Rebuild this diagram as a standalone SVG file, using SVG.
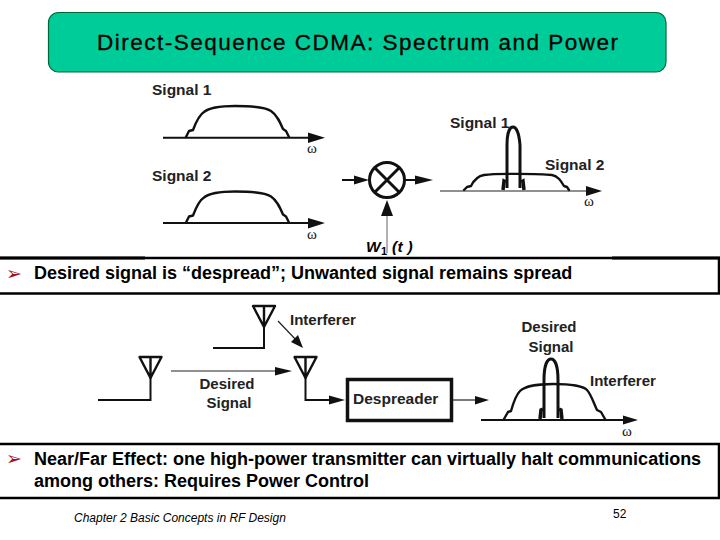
<svg xmlns="http://www.w3.org/2000/svg" width="720" height="540" viewBox="0 0 720 540">
<style>
.t{font-family:"Liberation Sans",Arial,sans-serif;fill:#000}
.b{font-weight:bold;font-size:18px}
.l{font-weight:bold;font-size:15.500px;fill:#222}
.l15{font-weight:bold;font-size:15px;fill:#222}
.w{font-family:"Liberation Serif",serif;font-size:15px;fill:#111}
.bul{font-family:"DejaVu Sans",sans-serif;font-size:19px;fill:#a01020}
.c{fill:none;stroke:#111;stroke-width:2.400;stroke-linejoin:round;stroke-linecap:round}
.c3{fill:none;stroke:#111;stroke-width:3}
.ln{fill:none;stroke:#111;stroke-width:2}
.ln1{fill:none;stroke:#222;stroke-width:1.200}
.ah{fill:#111}
.box{fill:#fff;stroke:#000;stroke-width:2.500}
</style>
<defs>
<path id="wide" class="c" d="M186 137 L189 131 L193 130 C196 122 199 115 204 112 C210 107 225 106 235 106 C250 106 265 107 271 111 C277 115 280 122 283 129 L286 131 L289 137"/>
<path id="ant" class="c" d="M-11 0 H11 L0 21 Z M0 0 V21"/>
</defs>
<rect width="720" height="540" fill="#fff"/>
<g id="title">
<rect x="48.5" y="12.5" width="617.5" height="59.5" rx="10" fill="#00cc99" stroke="#063" stroke-width="1.2"/>
<text class="t" x="97" y="50" font-size="22.500" textLength="521" lengthAdjust="spacing" stroke="#000" stroke-width="0.3">Direct-Sequence CDMA: Spectrum and Power</text>
</g>
<g id="bullet-box-1">
<rect class="box" x="-2" y="258" width="721" height="35.5"/>
<path d="M0 258 H145 M612 258 H720" stroke="#000" stroke-width="3" fill="none"/>
<text class="bul" x="6" y="280">➢</text>
<text class="t b" x="34" y="279">Desired signal is “despread”; Unwanted signal remains spread</text>
</g>
<g id="bullet-box-2">
<rect class="box" x="-2" y="444" width="721" height="54"/>
<text class="bul" x="6" y="465">➢</text>
<text class="t b" x="34" y="464.500">Near/Far Effect: one high-power transmitter can virtually halt communications</text>
<text class="t b" x="34" y="487">among others: Requires Power Control</text>
</g>
<g id="footer">
<text class="t" x="74" y="521.500" font-size="12" font-style="italic" fill="#222">Chapter 2 Basic Concepts in RF Design</text>
<text class="t" x="613" y="518" font-size="12" fill="#222">52</text>
</g>
<g id="signal-1-spectrum">
<text class="t l" x="152" y="95">Signal 1</text>
<use href="#wide"/>
<text class="w" x="307" y="153">ω</text>
</g>
<g id="signal-2-spectrum">
<text class="t l" x="152" y="180.500">Signal 2</text>
<use href="#wide" y="85.500"/>
<text class="w" x="307" y="239">ω</text>
</g>
<g id="mixer">
<circle cx="387" cy="180" r="17.500" fill="#fff" stroke="#111" stroke-width="3"/>
<path d="M375 168 L399 192 M399 168 L375 192" stroke="#111" stroke-width="3"/>
<text class="t" x="366" y="252" font-size="15.500" font-weight="bold" font-style="italic" fill="#222" letter-spacing="0.3">W<tspan font-size="11" dy="3" font-style="normal">1</tspan><tspan dy="-3"> (t )</tspan></text>
</g>
<g id="despread-spectrum">
<text class="t l" x="450" y="127.500">Signal 1</text>
<text class="t l" x="545" y="169.500">Signal 2</text>
<path class="c" d="M464 190 L467 187 L471 186 C474 180 478 176 484 175 C495 173.500 540 173.500 552 175 C558 176 561 181 564 186 L567 187 L569 190"/>
<path class="c3" d="M507 188 V145 C507 132 510 127 513 127 C516 127 519 132 520 145 V188"/>
<path fill="none" stroke="#111" stroke-width="3.500" d="M503 190 L504 181 L506 182 M524 190 L523 181 L521 182"/>
<text class="w" x="584" y="206">ω</text>
</g>
<g id="antenna-interferer">
<use href="#ant" x="264" y="306"/>
<path class="ln" d="M213 348 H264 V327"/>
<text class="t l15" x="290" y="325">Interferer</text>
</g>
<g id="antenna-desired">
<use href="#ant" x="150.500" y="357"/>
<path class="ln" d="M98 400 H150.500 V378"/>
<text class="t l15" x="227" y="389" text-anchor="middle">Desired</text>
<text class="t l15" x="229" y="408" text-anchor="middle">Signal</text>
</g>
<g id="antenna-receive">
<use href="#ant" x="305.500" y="357"/>
</g>
<g id="despreader">
<rect x="347.500" y="379.500" width="104" height="41" fill="#fff" stroke="#111" stroke-width="3.500"/>
<text class="t l" x="353" y="404">Despreader</text>
</g>
<g id="output-spectrum">
<text class="t l15" x="549" y="332" text-anchor="middle">Desired</text>
<text class="t l15" x="551" y="352" text-anchor="middle">Signal</text>
<text class="t l15" x="590" y="386">Interferer</text>
<path class="c" d="M504 419 L508 412 L511 411 C513 404 516 395 520 391 C525 386 540 384 553 384 C568 384 582 385 587 390 C591 394 594 404 597 410 L601 412 L605 419"/>
<path class="c3" d="M544 418 V380 C544 366 547 359 551 359 C555 359 558 366 558 380 V418"/>
<path fill="none" stroke="#111" stroke-width="3.500" d="M540 419 L541 410 L543 409 M562 419 L561 410 L559 409"/>
<text class="w" x="622" y="436">ω</text>
</g>
<g id="connectors">
<path class="ln" d="M163 137.700 H310 M163 223 H310"/>
<path class="ah" d="M325 137.700 L308 132.500 V143 Z M325 223 L308 218 V228.500 Z"/>
<path class="ln" d="M342 180 H357 M405 180 H420"/>
<path class="ah" d="M369 180 L354 175.500 V184.500 Z M433 180 L415 175.500 V184.500 Z"/>
<path d="M387 253 V214" stroke="#999" stroke-width="1.500" fill="none"/>
<path class="ah" d="M387 200 L381 216 H393 Z"/>
<path class="ln1" d="M440 191 H590"/>
<path class="ah" d="M602 191 L586 186 V196 Z"/>
<path class="ln1" d="M171 371 H280"/>
<path class="ah" d="M292 371 L275 367 V375.500 Z"/>
<path class="ln1" d="M278 321 L298 342"/>
<path class="ah" d="M303 348 L298 335 L291 342 Z"/>
<path class="ln" d="M305.500 378 V400 H332"/>
<path class="ah" d="M345 400 L329 395.500 V404.500 Z"/>
<path class="ln1" d="M452 400 H478"/>
<path class="ah" d="M489 400 L475 396 V404.500 Z"/>
<path class="ln" d="M481 420 H625"/>
<path class="ah" d="M638 420 L623 415.500 V424.500 Z"/>
</g>
</svg>
